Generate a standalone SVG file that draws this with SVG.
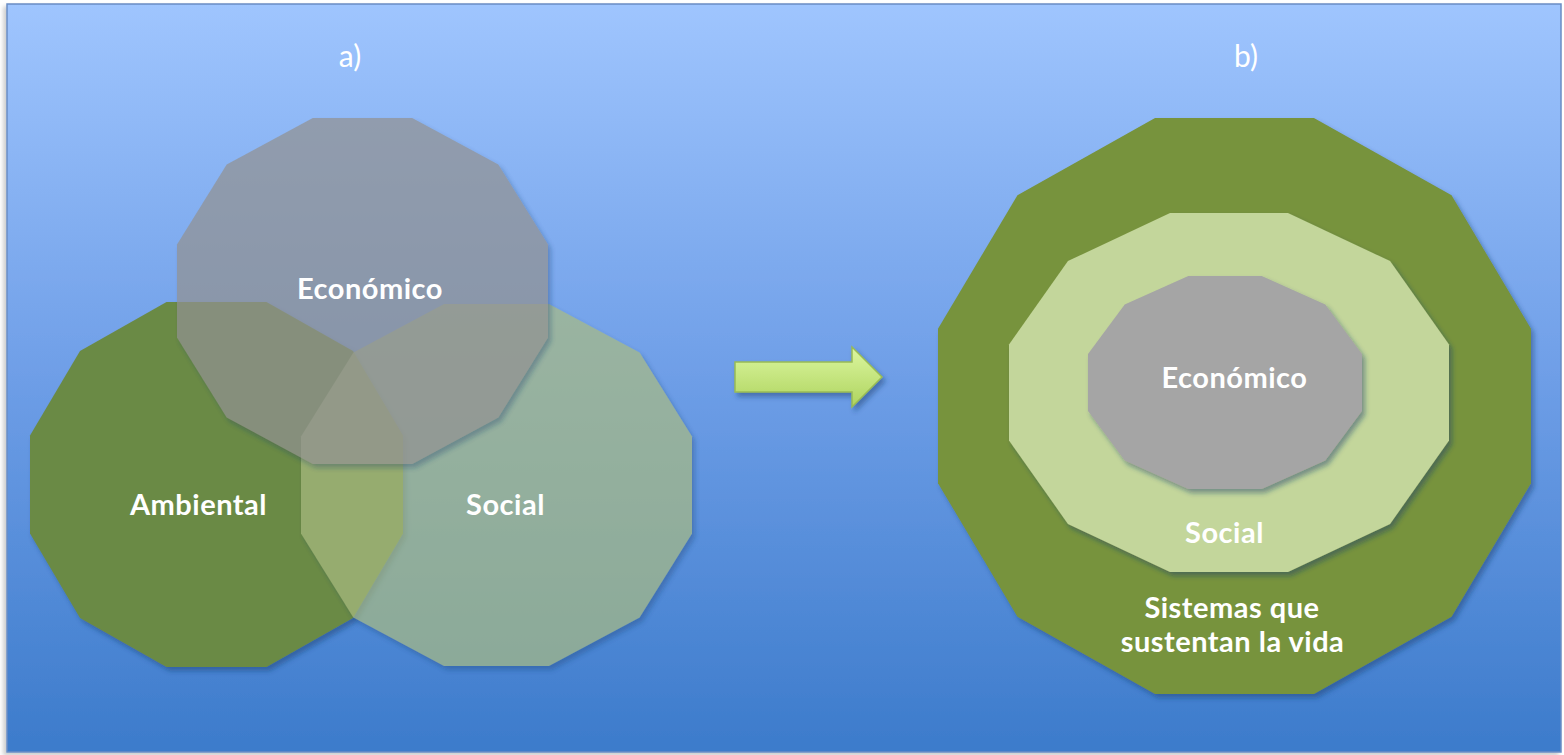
<svg xmlns="http://www.w3.org/2000/svg" width="1564" height="755" viewBox="0 0 1564 755">
  <defs>
    <linearGradient id="bg" x1="0" y1="0" x2="0" y2="1">
      <stop offset="0" stop-color="#9fc5fe"/>
      <stop offset="0.5" stop-color="#6e9ee7"/>
      <stop offset="1" stop-color="#3c7bcb"/>
    </linearGradient>
    <linearGradient id="arrowGrad" x1="0" y1="0" x2="0" y2="1">
      <stop offset="0" stop-color="#dcf7a0"/>
      <stop offset="1" stop-color="#aed35e"/>
    </linearGradient>
    <filter id="shadow" x="-10%" y="-10%" width="125%" height="125%">
      <feDropShadow dx="3" dy="4" stdDeviation="2.5" flood-color="#1f3c6a" flood-opacity="0.45"/>
    </filter>
    <filter id="frameShadow" x="-2%" y="-2%" width="104%" height="104%">
      <feDropShadow dx="-3" dy="3" stdDeviation="2" flood-color="#000" flood-opacity="0.2"/>
    </filter>
  </defs>
  <style>
    .lbl { font-family: Lato, "Open Sans", "Liberation Sans", sans-serif; font-weight: bold; font-size: 29px; letter-spacing: 0.5px; fill: #ffffff; text-anchor: middle; }
    .cap { font-family: Lato, "Open Sans", "Liberation Sans", sans-serif; font-weight: normal; font-size: 30px; fill: #ffffff; text-anchor: middle; }
    .shape { filter: url(#shadow); }
  </style>

  <rect x="0" y="0" width="1564" height="755" fill="#ffffff"/>
  <rect id="frame" x="7" y="4" width="1554" height="748" fill="url(#bg)" stroke="#6a8cc4" stroke-width="1.5" filter="url(#frameShadow)"/>

  <text class="cap" x="350" y="67">a)</text>
  <text class="cap" x="1246" y="67">b)</text>

  <g id="ambiental">
    <polygon class="shape" fill="#6b8a45" points="266.5,302 353,350.9 403,435.6 403,533.4 353,618.1 266.5,667 166.5,667 80,618.1 30,533.4 30,435.6 80,350.9 166.5,302"/>
  </g>
  <g id="social-a">
    <polygon class="shape" fill="#a9bb82" opacity="0.7" points="548.9,304 639.6,352.5 692,436.5 692,533.5 639.6,617.5 548.9,666 444.1,666 353.4,617.5 301,533.5 301,436.5 353.4,352.5 444.1,304"/>
  </g>
  <g id="economico-a">
    <polygon class="shape" fill="#929292" opacity="0.72" points="412.2,118 498.3,164.4 548,244.6 548,337.4 498.3,417.6 412.2,464 312.8,464 226.7,417.6 177,337.4 177,244.6 226.7,164.4 312.8,118"/>
  </g>
  <text class="lbl" x="370" y="299">Económico</text>
  <text class="lbl" x="198.5" y="515">Ambiental</text>
  <text class="lbl" x="505.5" y="515">Social</text>

  <g id="connectors">
    <path class="shape" d="M735,362 L852,362 L852,347 L882,377 L852,407 L852,392 L735,392 Z" fill="url(#arrowGrad)" stroke="#98bb55" stroke-width="1.5"/>
  </g>

  <g id="sistemas">
    <polygon class="shape" fill="#77933c" points="1313.95,118 1451.55,195.17 1531,328.83 1531,483.17 1451.55,616.83 1313.95,694 1155.05,694 1017.45,616.83 938,483.17 938,328.83 1017.45,195.17 1155.05,118"/>
    <text class="lbl" x="1232" y="618">Sistemas que</text>
    <text class="lbl" x="1232.5" y="652">sustentan la vida</text>
  </g>
  <g id="social-b">
    <polygon class="shape" fill="#c3d69b" points="1287.95,213 1390.05,261.1 1449,344.4 1449,440.6 1390.05,523.9 1287.95,572 1170.05,572 1067.95,523.9 1009,440.6 1009,344.4 1067.95,261.1 1170.05,213"/>
    <text class="lbl" x="1224.5" y="543">Social</text>
  </g>
  <g id="economico-b">
    <polygon class="shape" fill="#a5a5a5" points="1261.71,276 1325.29,304.54 1362,353.96 1362,411.04 1325.29,460.46 1261.71,489 1188.29,489 1124.71,460.46 1088,411.04 1088,353.96 1124.71,304.54 1188.29,276"/>
    <text class="lbl" x="1234.5" y="388">Económico</text>
  </g>
</svg>
